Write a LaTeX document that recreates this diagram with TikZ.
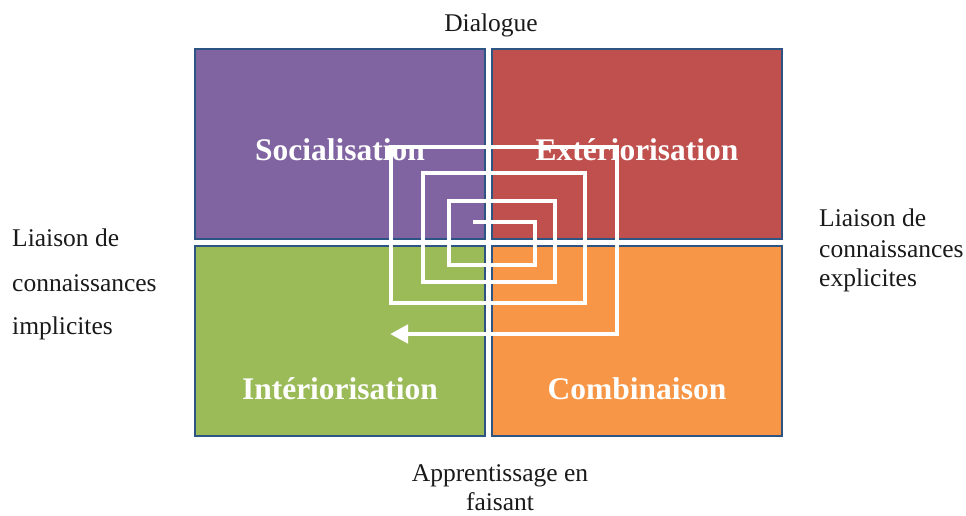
\documentclass[tikz,border=0pt]{standalone}
\usepackage{fontspec}
\setmainfont{Liberation Serif}
\usetikzlibrary{arrows.meta}
\definecolor{qpurple}{HTML}{8064A2}
\definecolor{qred}{HTML}{C0504D}
\definecolor{qgreen}{HTML}{9BBB59}
\definecolor{qorange}{HTML}{F79646}
\definecolor{qborder}{HTML}{2E5484}
\definecolor{txt}{HTML}{1A1A1A}
\tikzset{
  quad/.style={draw=qborder, line width=2.8pt, minimum width=290pt, minimum height=190pt, inner sep=0pt},
  qlabel/.style={text=white, font=\fontsize{31.5}{36}\selectfont\bfseries, inner sep=0pt},
  side/.style={text=txt, font=\fontsize{25.5}{30}\selectfont, inner sep=0pt},
  spiral/.style={draw=white, line width=4.5pt, line join=miter},
}
\begin{document}
\begin{tikzpicture}[x=1pt,y=-1pt]
\useasboundingbox[fill=white] (0,0) rectangle (966,515);
% quadrants
\node[quad, fill=qpurple] (soc) at (340,144) {};
\node[quad, fill=qred] (ext) at (637,144) {};
\node[quad, fill=qgreen] (int) at (340,341) {};
\node[quad, fill=qorange] (com) at (637,341) {};
% labels
\node[qlabel] (tsoc) at (340,150) {Socialisation};
\node[qlabel] (text) at (637,150) {Extériorisation};
\node[qlabel] (tint) at (340,389) {Intériorisation};
\node[qlabel] (tcom) at (637,389) {Combinaison};
% spiral
\coordinate (s0) at (473,222);
\coordinate (e0) at (390,334);
\draw[spiral, -{Triangle[width=18pt,length=18pt,fill=white]}]
  (s0) -- (535,222) -- (535,265) -- (449,265) -- (449,201) -- (555,201)
  -- (555,282) -- (423,282) -- (423,173) -- (585,173) -- (585,303)
  -- (391,303) -- (391,147) -- (617,147) -- (617,334) -- (e0);
% side texts
\node[side] (dia) at (491,25) {Dialogue};
\node[side, anchor=west] (l1) at (12,238) {Liaison de};
\node[side, anchor=west] (l2) at (12,283) {connaissances};
\node[side, anchor=west] (l3) at (12,328) {implicites};
\node[side, anchor=west] (r1) at (819,218) {Liaison de};
\node[side, anchor=west] (r2) at (819,249) {connaissances};
\node[side, anchor=west] (r3) at (819,280) {explicites};
\node[side] (b1) at (500,476) {Apprentissage en};
\node[side] (b2) at (500,502) {faisant};
\end{tikzpicture}
\end{document}
